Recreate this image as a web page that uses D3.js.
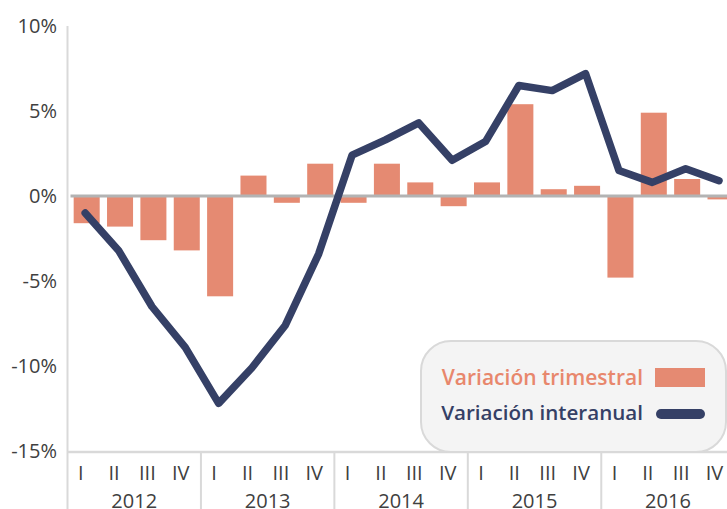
<!DOCTYPE html>
<html>
<head>
<meta charset="utf-8">
<script src="https://cdn.jsdelivr.net/npm/d3@7"></script>
<style>
  body { margin: 0; background: #fff; }
  svg { display: block; font-family: "Open Sans", sans-serif; }
</style>
</head>
<body>
<svg width="727" height="509"></svg>
<script>
var years = ["2012", "2013", "2014", "2015", "2016"];
var quarters = ["I", "II", "III", "IV"];
var yTicks = [10, 5, 0, -5, -10, -15];

// variación trimestral (barras) y variación interanual (línea), %
var trimestral = [-1.6, -1.8, -2.6, -3.2, -5.9, 1.2, -0.4, 1.9, -0.4, 1.9,
                  0.8, -0.6, 0.8, 5.4, 0.4, 0.6, -4.8, 4.9, 1.0, -0.2];
var interanual = [-1.0, -3.2, -6.5, -8.9, -12.2, -10.1, -7.6, -3.4, 2.4, 3.3,
                  4.3, 2.1, 3.2, 6.5, 6.2, 7.2, 1.5, 0.8, 1.6, 0.9];

var svg = d3.select("svg"),
    plotLeft = 68.5,
    plotRight = 735.7,
    plotTop = 26,
    plotBottom = 451;

var cats = [];
years.forEach(function(y) {
  quarters.forEach(function(q) { cats.push(y + "-" + q); });
});

var x = d3.scaleBand()
    .domain(cats)
    .range([plotLeft, plotRight]);

var xBar = d3.scaleBand()
    .domain(cats)
    .range([plotLeft, plotRight])
    .paddingInner(0.22)
    .paddingOuter(0.11);

var xYear = d3.scaleBand()
    .domain(years)
    .range([plotLeft, plotRight]);

var y = d3.scaleLinear()
    .domain([-15, 10])
    .range([plotBottom, plotTop]);

var grey = "#d9d9d9";

// eje y
svg.append("line")
    .attr("x1", plotLeft - 1).attr("x2", plotLeft - 1)
    .attr("y1", plotTop).attr("y2", 509)
    .attr("stroke", grey).attr("stroke-width", 2);

svg.append("g")
  .selectAll("text")
  .data(yTicks)
  .enter().append("text")
    .attr("x", 57)
    .attr("y", function(d) { return y(d); })
    .attr("dy", "0.35em")
    .attr("text-anchor", "end")
    .attr("font-size", 20)
    .attr("fill", "#404040")
    .text(function(d) { return d + "%"; });

// linea inferior y separadores de años
svg.append("line")
    .attr("x1", plotLeft - 1).attr("x2", 727)
    .attr("y1", y(-15) + 1).attr("y2", y(-15) + 1)
    .attr("stroke", grey).attr("stroke-width", 2.5);

svg.append("g")
  .selectAll("line")
  .data(years.slice(1))
  .enter().append("line")
    .attr("x1", function(d) { return xYear(d) - 1; })
    .attr("x2", function(d) { return xYear(d) - 1; })
    .attr("y1", y(-15)).attr("y2", 509)
    .attr("stroke", grey).attr("stroke-width", 2);

svg.append("g")
  .selectAll("text")
  .data(cats)
  .enter().append("text")
    .attr("x", function(d) { return x(d) + x.bandwidth() / 2 - 4.5; })
    .attr("y", 479.5)
    .attr("text-anchor", "middle")
    .attr("font-size", 20)
    .attr("fill", "#404040")
    .text(function(d) { return d.split("-")[1]; });

svg.append("g")
  .selectAll("text")
  .data(years)
  .enter().append("text")
    .attr("x", function(d) { return xYear(d) + xYear.bandwidth() / 2 - 1; })
    .attr("y", 507.5)
    .attr("text-anchor", "middle")
    .attr("font-size", 20)
    .attr("fill", "#404040")
    .text(function(d) { return d; });

// barras
svg.append("g")
  .selectAll("rect")
  .data(trimestral)
  .enter().append("rect")
    .attr("x", function(d, i) { return xBar(cats[i]) + 1.5; })
    .attr("width", xBar.bandwidth())
    .attr("y", function(d) { return y(Math.max(0, d)); })
    .attr("height", function(d) { return Math.abs(y(d) - y(0)); })
    .attr("fill", "#e58a72");

// linea del cero
svg.append("line")
    .attr("x1", plotLeft + 2).attr("x2", 727)
    .attr("y1", y(0)).attr("y2", y(0))
    .attr("stroke", "#b3b3b3").attr("stroke-width", 3);

// variación interanual
var line = d3.line()
    .x(function(d, i) { return x(cats[i]) + x.bandwidth() / 2; })
    .y(function(d) { return y(d); });

svg.append("path")
    .datum(interanual)
    .attr("fill", "none")
    .attr("stroke", "#354066")
    .attr("stroke-width", 7.5)
    .attr("stroke-linejoin", "round")
    .attr("stroke-linecap", "round")
    .attr("d", line);

// leyenda
var lg = svg.append("g");
lg.append("rect")
    .attr("x", 421).attr("y", 341)
    .attr("width", 305).attr("height", 111)
    .attr("rx", 30).attr("ry", 30)
    .attr("fill", "#f4f4f4")
    .attr("stroke", grey).attr("stroke-width", 2);

lg.append("text")
    .attr("x", 643).attr("y", 384.5)
    .attr("text-anchor", "end")
    .attr("font-size", 21)
    .attr("font-weight", 600)
    .attr("fill", "#e8876c")
    .text("Variación trimestral");

lg.append("rect")
    .attr("x", 655).attr("y", 368)
    .attr("width", 50).attr("height", 19)
    .attr("fill", "#e58a72");

lg.append("text")
    .attr("x", 643).attr("y", 420)
    .attr("text-anchor", "end")
    .attr("font-size", 20.6)
    .attr("font-weight", 600)
    .attr("fill", "#354066")
    .text("Variación interanual");

lg.append("line")
    .attr("x1", 661).attr("x2", 700)
    .attr("y1", 414).attr("y2", 414)
    .attr("stroke", "#354066")
    .attr("stroke-width", 10)
    .attr("stroke-linecap", "round");
</script>
</body>
</html>
